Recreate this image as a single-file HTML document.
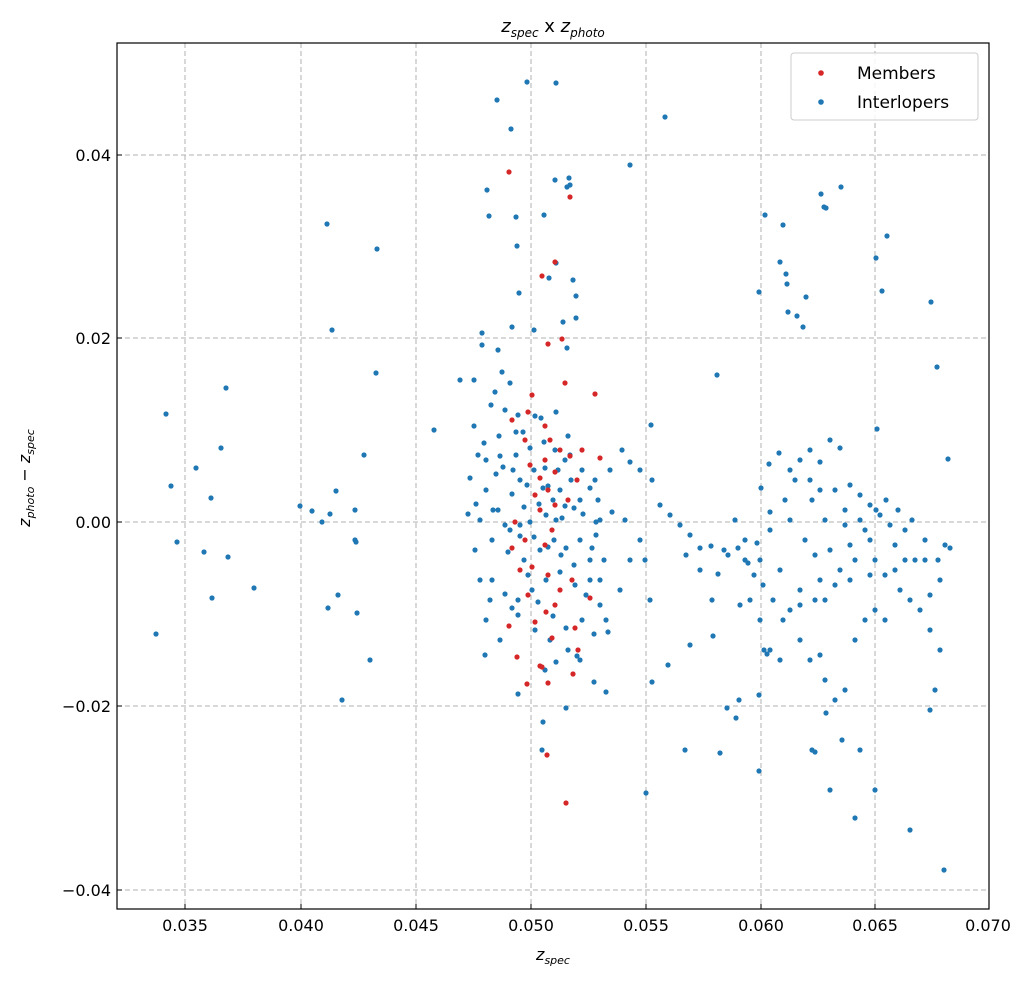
<!DOCTYPE html>
<html><head><meta charset="utf-8"><style>
html,body{margin:0;padding:0;background:#fff;}
svg text{font-family:"DejaVu Sans","Liberation Sans",sans-serif;}
</style></head><body>
<svg width="1032" height="983" xmlns="http://www.w3.org/2000/svg">
<rect width="1032" height="983" fill="#fff"/>
<g stroke="#b0b0b0" stroke-dasharray="5,3" stroke-width="1">
<line x1="185" y1="43" x2="185" y2="909"/><line x1="301" y1="43" x2="301" y2="909"/><line x1="416" y1="43" x2="416" y2="909"/><line x1="531" y1="43" x2="531" y2="909"/><line x1="646" y1="43" x2="646" y2="909"/><line x1="761" y1="43" x2="761" y2="909"/><line x1="875" y1="43" x2="875" y2="909"/>
<line x1="117" y1="155" x2="989" y2="155"/><line x1="117" y1="338" x2="989" y2="338"/><line x1="117" y1="522" x2="989" y2="522"/><line x1="117" y1="706" x2="989" y2="706"/><line x1="117" y1="890" x2="989" y2="890"/>
</g>
<g fill="#1f77b4" id="b">
<circle cx="156" cy="634" r="2.6"/><circle cx="166" cy="414" r="2.6"/><circle cx="171" cy="486" r="2.6"/><circle cx="177" cy="542" r="2.6"/><circle cx="196" cy="468" r="2.6"/><circle cx="204" cy="552" r="2.6"/><circle cx="211" cy="498" r="2.6"/><circle cx="212" cy="598" r="2.6"/><circle cx="221" cy="448" r="2.6"/><circle cx="226" cy="388" r="2.6"/><circle cx="228" cy="557" r="2.6"/><circle cx="254" cy="588" r="2.6"/><circle cx="300" cy="506" r="2.6"/><circle cx="312" cy="511" r="2.6"/><circle cx="322" cy="522" r="2.6"/><circle cx="327" cy="224" r="2.6"/><circle cx="330" cy="514" r="2.6"/><circle cx="332" cy="330" r="2.6"/><circle cx="336" cy="491" r="2.6"/><circle cx="338" cy="595" r="2.6"/><circle cx="342" cy="700" r="2.6"/><circle cx="355" cy="510" r="2.6"/><circle cx="355" cy="540" r="2.6"/><circle cx="356" cy="542" r="2.6"/><circle cx="357" cy="613" r="2.6"/><circle cx="364" cy="455" r="2.6"/><circle cx="370" cy="660" r="2.6"/><circle cx="377" cy="249" r="2.6"/><circle cx="376" cy="373" r="2.6"/><circle cx="328" cy="608" r="2.6"/>
<circle cx="759" cy="292" r="2.6"/><circle cx="765" cy="215" r="2.6"/><circle cx="780" cy="262" r="2.6"/><circle cx="783" cy="225" r="2.6"/><circle cx="786" cy="274" r="2.6"/><circle cx="787" cy="284" r="2.6"/><circle cx="788" cy="312" r="2.6"/><circle cx="797" cy="316" r="2.6"/><circle cx="806" cy="297" r="2.6"/><circle cx="803" cy="327" r="2.6"/><circle cx="821" cy="194" r="2.6"/><circle cx="824" cy="207" r="2.6"/><circle cx="826" cy="208" r="2.6"/><circle cx="841" cy="187" r="2.6"/><circle cx="887" cy="236" r="2.6"/><circle cx="876" cy="258" r="2.6"/><circle cx="882" cy="291" r="2.6"/><circle cx="877" cy="429" r="2.6"/><circle cx="931" cy="302" r="2.6"/><circle cx="937" cy="367" r="2.6"/><circle cx="948" cy="459" r="2.6"/><circle cx="717" cy="375" r="2.6"/><circle cx="718" cy="574" r="2.6"/><circle cx="713" cy="636" r="2.6"/><circle cx="727" cy="708" r="2.6"/><circle cx="736" cy="718" r="2.6"/><circle cx="720" cy="753" r="2.6"/><circle cx="759" cy="771" r="2.6"/><circle cx="761" cy="488" r="2.6"/><circle cx="769" cy="464" r="2.6"/><circle cx="779" cy="453" r="2.6"/><circle cx="790" cy="470" r="2.6"/><circle cx="800" cy="460" r="2.6"/><circle cx="810" cy="450" r="2.6"/><circle cx="820" cy="462" r="2.6"/><circle cx="830" cy="440" r="2.6"/><circle cx="840" cy="448" r="2.6"/><circle cx="812" cy="500" r="2.6"/><circle cx="825" cy="520" r="2.6"/><circle cx="845" cy="510" r="2.6"/><circle cx="860" cy="495" r="2.6"/><circle cx="870" cy="505" r="2.6"/><circle cx="880" cy="515" r="2.6"/><circle cx="890" cy="525" r="2.6"/><circle cx="905" cy="530" r="2.6"/><circle cx="895" cy="545" r="2.6"/><circle cx="870" cy="540" r="2.6"/><circle cx="855" cy="560" r="2.6"/><circle cx="840" cy="570" r="2.6"/><circle cx="820" cy="580" r="2.6"/><circle cx="800" cy="590" r="2.6"/><circle cx="780" cy="570" r="2.6"/><circle cx="760" cy="560" r="2.6"/><circle cx="745" cy="540" r="2.6"/><circle cx="735" cy="520" r="2.6"/><circle cx="770" cy="530" r="2.6"/><circle cx="790" cy="520" r="2.6"/><circle cx="805" cy="540" r="2.6"/><circle cx="815" cy="555" r="2.6"/><circle cx="830" cy="550" r="2.6"/><circle cx="850" cy="545" r="2.6"/><circle cx="865" cy="530" r="2.6"/><circle cx="875" cy="560" r="2.6"/><circle cx="885" cy="575" r="2.6"/><circle cx="900" cy="590" r="2.6"/><circle cx="910" cy="600" r="2.6"/><circle cx="920" cy="610" r="2.6"/><circle cx="930" cy="630" r="2.6"/><circle cx="940" cy="650" r="2.6"/><circle cx="935" cy="690" r="2.6"/><circle cx="930" cy="710" r="2.6"/><circle cx="800" cy="640" r="2.6"/><circle cx="810" cy="660" r="2.6"/><circle cx="820" cy="655" r="2.6"/><circle cx="825" cy="680" r="2.6"/><circle cx="835" cy="700" r="2.6"/><circle cx="845" cy="690" r="2.6"/><circle cx="855" cy="640" r="2.6"/><circle cx="865" cy="620" r="2.6"/><circle cx="875" cy="610" r="2.6"/><circle cx="885" cy="620" r="2.6"/><circle cx="780" cy="660" r="2.6"/><circle cx="770" cy="650" r="2.6"/><circle cx="760" cy="620" r="2.6"/><circle cx="750" cy="600" r="2.6"/><circle cx="740" cy="605" r="2.6"/><circle cx="830" cy="790" r="2.6"/><circle cx="855" cy="818" r="2.6"/><circle cx="860" cy="750" r="2.6"/><circle cx="875" cy="790" r="2.6"/><circle cx="910" cy="830" r="2.6"/><circle cx="944" cy="870" r="2.6"/><circle cx="842" cy="740" r="2.6"/><circle cx="826" cy="713" r="2.6"/><circle cx="812" cy="750" r="2.6"/><circle cx="815" cy="752" r="2.6"/><circle cx="764" cy="650" r="2.6"/><circle cx="759" cy="695" r="2.6"/><circle cx="767" cy="654" r="2.6"/><circle cx="739" cy="700" r="2.6"/><circle cx="748" cy="563" r="2.6"/><circle cx="757" cy="543" r="2.6"/><circle cx="770" cy="512" r="2.6"/><circle cx="785" cy="500" r="2.6"/><circle cx="795" cy="480" r="2.6"/><circle cx="810" cy="480" r="2.6"/><circle cx="820" cy="490" r="2.6"/><circle cx="835" cy="490" r="2.6"/><circle cx="850" cy="485" r="2.6"/><circle cx="845" cy="525" r="2.6"/><circle cx="860" cy="520" r="2.6"/><circle cx="876" cy="510" r="2.6"/><circle cx="886" cy="500" r="2.6"/><circle cx="898" cy="510" r="2.6"/><circle cx="912" cy="520" r="2.6"/><circle cx="925" cy="560" r="2.6"/><circle cx="938" cy="560" r="2.6"/><circle cx="945" cy="545" r="2.6"/><circle cx="950" cy="548" r="2.6"/><circle cx="940" cy="580" r="2.6"/><circle cx="930" cy="595" r="2.6"/><circle cx="925" cy="540" r="2.6"/><circle cx="915" cy="560" r="2.6"/><circle cx="905" cy="560" r="2.6"/><circle cx="895" cy="570" r="2.6"/><circle cx="870" cy="575" r="2.6"/><circle cx="850" cy="580" r="2.6"/><circle cx="835" cy="585" r="2.6"/><circle cx="825" cy="600" r="2.6"/><circle cx="815" cy="600" r="2.6"/><circle cx="800" cy="605" r="2.6"/><circle cx="790" cy="610" r="2.6"/><circle cx="783" cy="620" r="2.6"/><circle cx="773" cy="600" r="2.6"/><circle cx="763" cy="585" r="2.6"/><circle cx="754" cy="575" r="2.6"/><circle cx="745" cy="560" r="2.6"/><circle cx="738" cy="548" r="2.6"/><circle cx="728" cy="555" r="2.6"/><circle cx="724" cy="550" r="2.6"/><circle cx="711" cy="546" r="2.6"/><circle cx="700" cy="548" r="2.6"/><circle cx="690" cy="535" r="2.6"/><circle cx="680" cy="525" r="2.6"/><circle cx="670" cy="515" r="2.6"/><circle cx="660" cy="505" r="2.6"/><circle cx="686" cy="555" r="2.6"/><circle cx="700" cy="570" r="2.6"/><circle cx="712" cy="600" r="2.6"/><circle cx="690" cy="645" r="2.6"/><circle cx="668" cy="665" r="2.6"/><circle cx="650" cy="600" r="2.6"/><circle cx="645" cy="560" r="2.6"/><circle cx="652" cy="480" r="2.6"/><circle cx="640" cy="470" r="2.6"/><circle cx="630" cy="462" r="2.6"/><circle cx="622" cy="450" r="2.6"/><circle cx="640" cy="540" r="2.6"/><circle cx="630" cy="560" r="2.6"/><circle cx="620" cy="590" r="2.6"/><circle cx="608" cy="632" r="2.6"/><circle cx="606" cy="620" r="2.6"/><circle cx="600" cy="580" r="2.6"/><circle cx="590" cy="560" r="2.6"/><circle cx="596" cy="535" r="2.6"/><circle cx="598" cy="500" r="2.6"/><circle cx="595" cy="480" r="2.6"/><circle cx="610" cy="470" r="2.6"/><circle cx="612" cy="512" r="2.6"/><circle cx="625" cy="520" r="2.6"/><circle cx="600" cy="520" r="2.6"/><circle cx="652" cy="682" r="2.6"/><circle cx="646" cy="793" r="2.6"/><circle cx="651" cy="425" r="2.6"/><circle cx="580" cy="500" r="2.6"/><circle cx="685" cy="750" r="2.6"/><circle cx="665" cy="117" r="2.6"/><circle cx="630" cy="165" r="2.6"/>
<circle cx="497" cy="100" r="2.6"/><circle cx="511" cy="129" r="2.6"/><circle cx="527" cy="82" r="2.6"/><circle cx="556" cy="83" r="2.6"/><circle cx="567" cy="187" r="2.6"/><circle cx="569" cy="178" r="2.6"/><circle cx="570" cy="185" r="2.6"/><circle cx="487" cy="190" r="2.6"/><circle cx="489" cy="216" r="2.6"/><circle cx="544" cy="215" r="2.6"/><circle cx="549" cy="278" r="2.6"/><circle cx="555" cy="180" r="2.6"/><circle cx="498" cy="350" r="2.6"/><circle cx="517" cy="246" r="2.6"/><circle cx="512" cy="327" r="2.6"/><circle cx="516" cy="217" r="2.6"/><circle cx="563" cy="322" r="2.6"/><circle cx="573" cy="280" r="2.6"/><circle cx="576" cy="296" r="2.6"/><circle cx="576" cy="318" r="2.6"/><circle cx="567" cy="348" r="2.6"/><circle cx="556" cy="263" r="2.6"/><circle cx="519" cy="293" r="2.6"/><circle cx="482" cy="345" r="2.6"/><circle cx="534" cy="330" r="2.6"/><circle cx="474" cy="380" r="2.6"/><circle cx="502" cy="372" r="2.6"/><circle cx="495" cy="392" r="2.6"/><circle cx="510" cy="383" r="2.6"/><circle cx="491" cy="405" r="2.6"/><circle cx="505" cy="410" r="2.6"/><circle cx="518" cy="415" r="2.6"/><circle cx="523" cy="432" r="2.6"/><circle cx="535" cy="416" r="2.6"/><circle cx="541" cy="418" r="2.6"/><circle cx="544" cy="442" r="2.6"/><circle cx="556" cy="412" r="2.6"/><circle cx="568" cy="436" r="2.6"/><circle cx="565" cy="460" r="2.6"/><circle cx="558" cy="470" r="2.6"/><circle cx="545" cy="468" r="2.6"/><circle cx="530" cy="448" r="2.6"/><circle cx="516" cy="455" r="2.6"/><circle cx="500" cy="456" r="2.6"/><circle cx="486" cy="460" r="2.6"/><circle cx="496" cy="474" r="2.6"/><circle cx="486" cy="490" r="2.6"/><circle cx="512" cy="494" r="2.6"/><circle cx="520" cy="480" r="2.6"/><circle cx="534" cy="470" r="2.6"/><circle cx="548" cy="486" r="2.6"/><circle cx="560" cy="490" r="2.6"/><circle cx="571" cy="480" r="2.6"/><circle cx="582" cy="470" r="2.6"/><circle cx="590" cy="488" r="2.6"/><circle cx="574" cy="508" r="2.6"/><circle cx="562" cy="518" r="2.6"/><circle cx="546" cy="515" r="2.6"/><circle cx="530" cy="522" r="2.6"/><circle cx="520" cy="536" r="2.6"/><circle cx="505" cy="525" r="2.6"/><circle cx="493" cy="510" r="2.6"/><circle cx="480" cy="520" r="2.6"/><circle cx="492" cy="540" r="2.6"/><circle cx="508" cy="552" r="2.6"/><circle cx="524" cy="560" r="2.6"/><circle cx="540" cy="550" r="2.6"/><circle cx="554" cy="540" r="2.6"/><circle cx="566" cy="548" r="2.6"/><circle cx="580" cy="540" r="2.6"/><circle cx="592" cy="548" r="2.6"/><circle cx="604" cy="560" r="2.6"/><circle cx="590" cy="580" r="2.6"/><circle cx="575" cy="585" r="2.6"/><circle cx="560" cy="572" r="2.6"/><circle cx="546" cy="580" r="2.6"/><circle cx="532" cy="590" r="2.6"/><circle cx="518" cy="600" r="2.6"/><circle cx="505" cy="594" r="2.6"/><circle cx="490" cy="600" r="2.6"/><circle cx="480" cy="580" r="2.6"/><circle cx="486" cy="620" r="2.6"/><circle cx="500" cy="640" r="2.6"/><circle cx="518" cy="615" r="2.6"/><circle cx="535" cy="630" r="2.6"/><circle cx="550" cy="640" r="2.6"/><circle cx="566" cy="628" r="2.6"/><circle cx="582" cy="620" r="2.6"/><circle cx="594" cy="634" r="2.6"/><circle cx="580" cy="660" r="2.6"/><circle cx="568" cy="650" r="2.6"/><circle cx="556" cy="662" r="2.6"/><circle cx="545" cy="670" r="2.6"/><circle cx="594" cy="682" r="2.6"/><circle cx="606" cy="692" r="2.6"/><circle cx="518" cy="694" r="2.6"/><circle cx="543" cy="722" r="2.6"/><circle cx="542" cy="750" r="2.6"/><circle cx="566" cy="708" r="2.6"/><circle cx="577" cy="656" r="2.6"/><circle cx="553" cy="616" r="2.6"/><circle cx="512" cy="608" r="2.6"/><circle cx="528" cy="575" r="2.6"/><circle cx="538" cy="602" r="2.6"/><circle cx="474" cy="426" r="2.6"/><circle cx="484" cy="443" r="2.6"/><circle cx="499" cy="436" r="2.6"/><circle cx="516" cy="432" r="2.6"/><circle cx="543" cy="488" r="2.6"/><circle cx="553" cy="500" r="2.6"/><circle cx="565" cy="506" r="2.6"/><circle cx="583" cy="514" r="2.6"/><circle cx="596" cy="522" r="2.6"/><circle cx="524" cy="507" r="2.6"/><circle cx="539" cy="504" r="2.6"/><circle cx="498" cy="510" r="2.6"/><circle cx="510" cy="530" r="2.6"/><circle cx="556" cy="520" r="2.6"/><circle cx="485" cy="655" r="2.6"/><circle cx="475" cy="550" r="2.6"/><circle cx="434" cy="430" r="2.6"/><circle cx="460" cy="380" r="2.6"/><circle cx="468" cy="514" r="2.6"/><circle cx="476" cy="504" r="2.6"/><circle cx="492" cy="580" r="2.6"/><circle cx="520" cy="525" r="2.6"/><circle cx="534" cy="537" r="2.6"/><circle cx="548" cy="547" r="2.6"/><circle cx="561" cy="555" r="2.6"/><circle cx="574" cy="565" r="2.6"/><circle cx="586" cy="595" r="2.6"/><circle cx="600" cy="605" r="2.6"/><circle cx="470" cy="478" r="2.6"/><circle cx="478" cy="455" r="2.6"/><circle cx="503" cy="467" r="2.6"/><circle cx="513" cy="470" r="2.6"/><circle cx="527" cy="485" r="2.6"/><circle cx="555" cy="450" r="2.6"/><circle cx="570" cy="455" r="2.6"/><circle cx="482" cy="333" r="2.6"/>
</g>
<g fill="#d62728">
<circle cx="509" cy="172" r="2.6"/><circle cx="570" cy="197" r="2.6"/><circle cx="555" cy="262" r="2.6"/><circle cx="542" cy="276" r="2.6"/><circle cx="548" cy="344" r="2.6"/><circle cx="562" cy="339" r="2.6"/><circle cx="565" cy="383" r="2.6"/><circle cx="595" cy="394" r="2.6"/><circle cx="532" cy="395" r="2.6"/><circle cx="528" cy="412" r="2.6"/><circle cx="545" cy="426" r="2.6"/><circle cx="550" cy="440" r="2.6"/><circle cx="560" cy="450" r="2.6"/><circle cx="525" cy="440" r="2.6"/><circle cx="530" cy="465" r="2.6"/><circle cx="545" cy="460" r="2.6"/><circle cx="555" cy="472" r="2.6"/><circle cx="540" cy="478" r="2.6"/><circle cx="548" cy="490" r="2.6"/><circle cx="535" cy="495" r="2.6"/><circle cx="555" cy="505" r="2.6"/><circle cx="568" cy="500" r="2.6"/><circle cx="577" cy="480" r="2.6"/><circle cx="570" cy="456" r="2.6"/><circle cx="582" cy="450" r="2.6"/><circle cx="600" cy="458" r="2.6"/><circle cx="512" cy="420" r="2.6"/><circle cx="515" cy="522" r="2.6"/><circle cx="525" cy="540" r="2.6"/><circle cx="540" cy="510" r="2.6"/><circle cx="552" cy="530" r="2.6"/><circle cx="545" cy="545" r="2.6"/><circle cx="532" cy="567" r="2.6"/><circle cx="548" cy="575" r="2.6"/><circle cx="528" cy="595" r="2.6"/><circle cx="555" cy="605" r="2.6"/><circle cx="560" cy="590" r="2.6"/><circle cx="535" cy="622" r="2.6"/><circle cx="512" cy="548" r="2.6"/><circle cx="520" cy="570" r="2.6"/><circle cx="572" cy="580" r="2.6"/><circle cx="575" cy="628" r="2.6"/><circle cx="578" cy="650" r="2.6"/><circle cx="552" cy="638" r="2.6"/><circle cx="546" cy="612" r="2.6"/><circle cx="509" cy="626" r="2.6"/><circle cx="517" cy="657" r="2.6"/><circle cx="540" cy="666" r="2.6"/><circle cx="527" cy="684" r="2.6"/><circle cx="548" cy="683" r="2.6"/><circle cx="573" cy="674" r="2.6"/><circle cx="547" cy="755" r="2.6"/><circle cx="542" cy="667" r="2.6"/><circle cx="566" cy="803" r="2.6"/><circle cx="590" cy="598" r="2.6"/>
</g>
<rect x="117" y="43" width="872" height="866" fill="none" stroke="#000" stroke-width="1.2"/>
<g stroke="#000" stroke-width="1">
<line x1="185" y1="909" x2="185" y2="904"/><line x1="301" y1="909" x2="301" y2="904"/><line x1="416" y1="909" x2="416" y2="904"/><line x1="531" y1="909" x2="531" y2="904"/><line x1="646" y1="909" x2="646" y2="904"/><line x1="761" y1="909" x2="761" y2="904"/><line x1="875" y1="909" x2="875" y2="904"/>
<line x1="117" y1="155" x2="122" y2="155"/><line x1="117" y1="338" x2="122" y2="338"/><line x1="117" y1="522" x2="122" y2="522"/><line x1="117" y1="706" x2="122" y2="706"/><line x1="117" y1="890" x2="122" y2="890"/>
</g>
<g font-size="16" fill="#000" text-anchor="middle">
<text x="185" y="931">0.035</text><text x="301" y="931">0.040</text><text x="416" y="931">0.045</text><text x="531" y="931">0.050</text><text x="646" y="931">0.055</text><text x="761" y="931">0.060</text><text x="875" y="931">0.065</text><text x="988" y="931">0.070</text>
</g>
<g font-size="16" fill="#000" text-anchor="end">
<text x="111" y="161">0.04</text><text x="111" y="344">0.02</text><text x="111" y="528">0.00</text><text x="111" y="712">−0.02</text><text x="111" y="896">−0.04</text>
</g>
<text x="553" y="960" font-size="16" text-anchor="middle"><tspan font-style="italic">z</tspan><tspan font-size="11" dy="4" font-style="italic">spec</tspan></text>
<text transform="translate(30,478) rotate(-90)" font-size="16" text-anchor="middle"><tspan font-style="italic">z</tspan><tspan font-size="11" dy="4" font-style="italic">photo</tspan><tspan dy="-4"> − </tspan><tspan font-style="italic">z</tspan><tspan font-size="11" dy="4" font-style="italic">spec</tspan></text>
<text x="553" y="32" font-size="18" text-anchor="middle"><tspan font-style="italic">z</tspan><tspan font-size="12" dy="5" font-style="italic">spec</tspan><tspan dy="-5"> x </tspan><tspan font-style="italic">z</tspan><tspan font-size="12" dy="5" font-style="italic">photo</tspan></text>
<rect x="791" y="53" width="187" height="67" rx="3" fill="#fff" fill-opacity="0.85" stroke="#ccc"/>
<circle cx="821" cy="73" r="2.8" fill="#d62728"/><circle cx="821" cy="102" r="2.8" fill="#1f77b4"/>
<text x="857" y="79" font-size="17">Members</text><text x="857" y="108" font-size="17">Interlopers</text>
</svg>
</body></html>
